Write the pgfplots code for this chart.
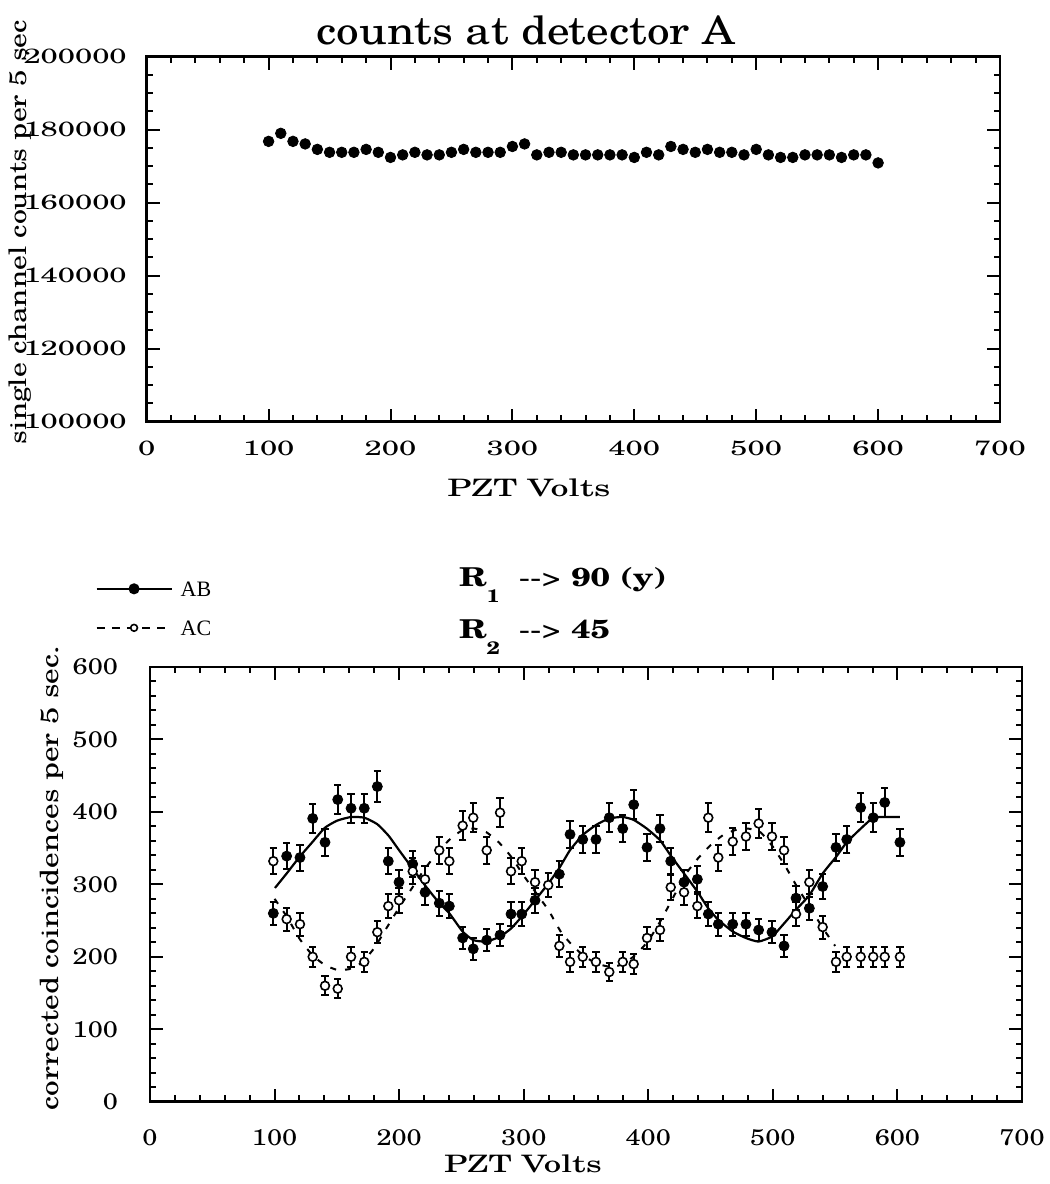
\documentclass[border=0pt]{standalone}
\usepackage{fontspec}
\setmainfont{texgyreschola}[Extension=.otf, UprightFont=*-regular, BoldFont=*-bold, ItalicFont=*-italic, BoldItalicFont=*-bolditalic]
\newfontfamily\legfont{Liberation Serif}
\usepackage{graphicx}
\usepackage{pgfplots}
\pgfplotsset{compat=1.18}
\newcommand{\sx}[2]{\scalebox{#1}[1]{#2}}

\pgfplotstableread{
x y
100 176800
110 179000
120 176800
130 176100
140 174600
150 173800
160 173800
170 173800
180 174600
190 173800
200 172400
210 173100
220 173800
230 173100
240 173100
250 173800
260 174600
270 173800
280 173800
290 173800
300 175400
310 176100
320 173100
330 173800
340 173800
350 173100
360 173100
370 173100
380 173100
390 173100
400 172400
410 173800
420 173100
430 175400
440 174600
450 173800
460 174600
470 173800
480 173800
490 173100
500 174600
510 173100
520 172400
530 172400
540 173100
550 173100
560 173100
570 172400
580 173100
590 173100
600 170900
}\topdata

\pgfplotstableread{
x y e
99.0 260 16
109.7 339 18
120.4 337 18
130.6 391 20
140.5 358 19
150.7 417 20
161.4 405 20
172.0 405 20
182.5 435 21
191.3 332 18
199.9 303 17
210.9 328 18
220.8 289 17
232.2 274 17
240.3 270 16
251.0 226 15
259.5 211 15
270.3 223 15
281.0 230 15
289.8 259 16
298.4 259 16
309.1 278 17
328.6 314 18
337.2 369 19
347.4 362 19
358.0 362 19
368.7 392 20
379.5 377 19
388.3 410 20
399.0 351 19
409.4 377 19
418.0 332 18
428.7 303 17
439.4 307 18
448.2 259 16
456.2 245 16
467.8 245 16
478.4 245 16
488.6 237 15
499.3 234 15
509.0 215 15
518.6 281 17
529.3 267 16
540.0 297 17
550.7 351 19
559.3 362 19
570.5 406 20
580.6 392 20
589.8 413 20
602.0 358 19
}\abdata

\pgfplotstableread{
x y e
99.0 332 18
109.7 252 16
120.4 245 16
130.6 200 14
140.5 160 13
150.7 156 13
161.4 200 14
172.0 193 14
182.5 234 15
191.3 270 16
199.9 278 17
210.9 318 18
220.8 307 18
232.2 347 19
240.3 332 18
251.0 381 20
259.5 392 20
270.3 347 19
281.0 399 20
289.8 318 18
298.4 332 18
309.1 303 17
319.7 299 17
328.6 215 15
337.2 193 14
347.4 200 14
358.0 193 14
368.7 179 13
379.5 193 14
388.3 190 14
399.0 226 15
409.4 237 15
418.0 296 17
428.7 289 17
439.4 270 16
448.2 392 20
456.2 337 18
467.8 359 19
478.4 366 19
488.6 384 20
499.3 366 19
509.0 347 19
518.6 259 16
529.3 303 17
540.0 241 16
550.7 193 14
559.3 200 14
570.5 200 14
580.6 200 14
589.8 200 14
602.0 200 14
}\acdata

\pgfplotstableread{
x y
100.3 295
109.7 315
120.1 338
130.2 358
140.3 378
150.3 388
161.4 393
172.1 392
182.5 383
191.6 367
200.0 347
210.7 322
221.5 297
232.3 274
240.3 260
250.9 235
259.6 223
270.0 221
281.1 228
289.8 239
298.2 255
309.1 278
319.7 301
328.4 322
337.1 347
347.3 368
358.1 382
368.6 391
379.4 393
388.3 389
398.8 377
409.4 361
417.9 340
428.7 315
439.4 290
448.1 267
456.2 251
467.7 235
478.3 226
488.4 221
499.4 228
509.0 246
518.6 265
529.3 285
540.0 315
550.8 338
559.3 358
570.6 377
580.6 392
589.8 393
602.0 393
}\abfit

\pgfplotstableread{
x y
100 280
110 255
120 225
130 203
140 189
150 182
160 183
170 192
180 212
190 240
200 268
210 294
220 320
230 342
240 361
250 374
260 377
270 372
280 358
290 338
300 312
310 288
320 264
330 234
340 214
350 199
360 190
370 186
380 190
390 203
400 222
410 250
420 282
430 314
440 336
450 354
460 368
470 375
480 377
490 372
500 352
510 325
520 295
530 268
540 240
550 215
}\acfit

\begin{document}
\begin{tikzpicture}
\useasboundingbox (0,0) rectangle (525pt,592pt);

% ---------- top panel ----------
\begin{axis}[
  at={(73.35pt,381.15pt)}, anchor=south west,
  scale only axis, width=426.65pt, height=182.5pt,
  xmin=0, xmax=700, ymin=100000, ymax=200000,
  xtick={0,100,200,300,400,500,600,700},
  ytick={100000,120000,140000,160000,180000,200000},
  minor x tick num=4, minor y tick num=3,
  scaled y ticks=false, scaled x ticks=false,
  tick align=inside,
  axis line style={line width=1.3pt},
  every tick/.style={black, line width=1pt},
  major tick length=6.5pt, minor tick length=3.2pt,
  xticklabel={\sx{1.5}{\pgfmathprintnumber[fixed,precision=0,1000 sep={},assume math mode=true]{\tick}}},
  yticklabel={\sx{1.5}{\pgfmathprintnumber[fixed,precision=0,1000 sep={},assume math mode=true]{\tick}}},
  xticklabel style={font=\fontsize{10.3}{11}\selectfont, yshift=-6pt},
  yticklabel style={font=\fontsize{10.3}{11}\selectfont, xshift=-6.5pt},
]
\addplot[only marks, mark=*, mark size=2.65pt, black] table {\topdata};
\end{axis}

% ---------- bottom panel ----------
\begin{axis}[
  at={(75pt,41.15pt)}, anchor=south west,
  scale only axis, width=436pt, height=217.35pt,
  xmin=0, xmax=700, ymin=0, ymax=600,
  xtick={0,100,200,300,400,500,600,700},
  ytick={0,100,200,300,400,500,600},
  minor x tick num=4, minor y tick num=4,
  tick align=inside,
  axis line style={line width=1.3pt},
  every tick/.style={black, line width=1pt},
  major tick length=6.5pt, minor tick length=3.2pt,
  xticklabel={\sx{1.2}{\pgfmathprintnumber[assume math mode=true]{\tick}}},
  yticklabel={\sx{1.2}{\pgfmathprintnumber[assume math mode=true]{\tick}}},
  xticklabel style={font=\fontsize{11.3}{12}\selectfont, yshift=-10.5pt},
  yticklabel style={font=\fontsize{11.3}{12}\selectfont, xshift=-12.5pt},
  legend style={draw=none, fill=none, at={(-0.063,1.198)}, anchor=north west,
    font=\legfont\fontsize{11}{12}\selectfont, row sep=12pt, inner sep=0pt,
    nodes={inner sep=0pt, text height=7.5pt, text depth=0pt}},
  legend cell align=left,
  legend image code/.code={\draw[mark repeat=2, mark phase=2, #1] plot coordinates {(0pt,0pt) (18.75pt,0pt) (37.5pt,0pt)};},
]
\addlegendimage{black, line width=1.1pt, mark=*, mark size=2.2pt, mark options={solid}}
\addlegendentry{\hspace{4pt}AB}
\addlegendimage{black, line width=1pt, dash pattern=on 4pt off 3.6pt, mark=*, mark size=1.7pt, mark options={solid, fill=white, line width=0.8pt}}
\addlegendentry{\hspace{4pt}AC}

\addplot[forget plot, black, line width=1.1pt, smooth, tension=0.3] table {\abfit};
\addplot[forget plot, only marks, black, mark=*, mark size=2.5pt,
  error bars/.cd, y dir=both, y explicit,
  error bar style={line width=1pt, black},
  error mark options={rotate=90, black, mark size=1.8pt, line width=1pt}]
  table[x=x, y=y, y error=e] {\abdata};
\addplot[forget plot, black, line width=1pt, dash pattern=on 3pt off 4.5pt, smooth, tension=0.3] table {\acfit};
\addplot[forget plot, only marks, black, mark=*, mark size=2.2pt, mark options={fill=white, draw=black, line width=0.8pt},
  error bars/.cd, y dir=both, y explicit,
  error bar style={line width=1pt, black},
  error mark options={rotate=90, black, mark size=1.8pt, line width=1pt}]
  table[x=x, y=y, y error=e] {\acdata};
\end{axis}

% ---------- texts ----------
\node[anchor=base, font=\fontsize{19.5}{22}\selectfont] at (263pt,569.5pt) {\sx{1.16}{counts at detector A}};
\node[anchor=base, rotate=90, font=\fontsize{12}{13}\selectfont] at (13.5pt,476pt) {\sx{1.24}{single channel counts per 5 sec}};
\node[anchor=base, font=\fontsize{12}{14}\selectfont] at (264.5pt,343.5pt) {\sx{1.5}{PZT Volts}};
\node[anchor=base, font=\fontsize{12}{14}\selectfont] at (261.5pt,5.5pt) {\sx{1.45}{PZT Volts}};
\node[anchor=base, rotate=90, font=\fontsize{12.5}{14}\selectfont] at (29pt,153pt) {\sx{1.25}{corrected coincidences per 5 sec.}};
\node[anchor=base west, font=\fontsize{13}{15}\selectfont] at (226pt,298.5pt) {\sx{1.3}{\textbf{R}\raisebox{-8pt}{\fontsize{9}{10}\selectfont\textbf{1}}\ \ {-}{-}>\ \textbf{90 (y)}}};
\node[anchor=base west, font=\fontsize{13}{15}\selectfont] at (226pt,272.5pt) {\sx{1.3}{\textbf{R}\raisebox{-8pt}{\fontsize{9}{10}\selectfont\textbf{2}}\ \ {-}{-}>\ \textbf{45}}};
\end{tikzpicture}
\end{document}
